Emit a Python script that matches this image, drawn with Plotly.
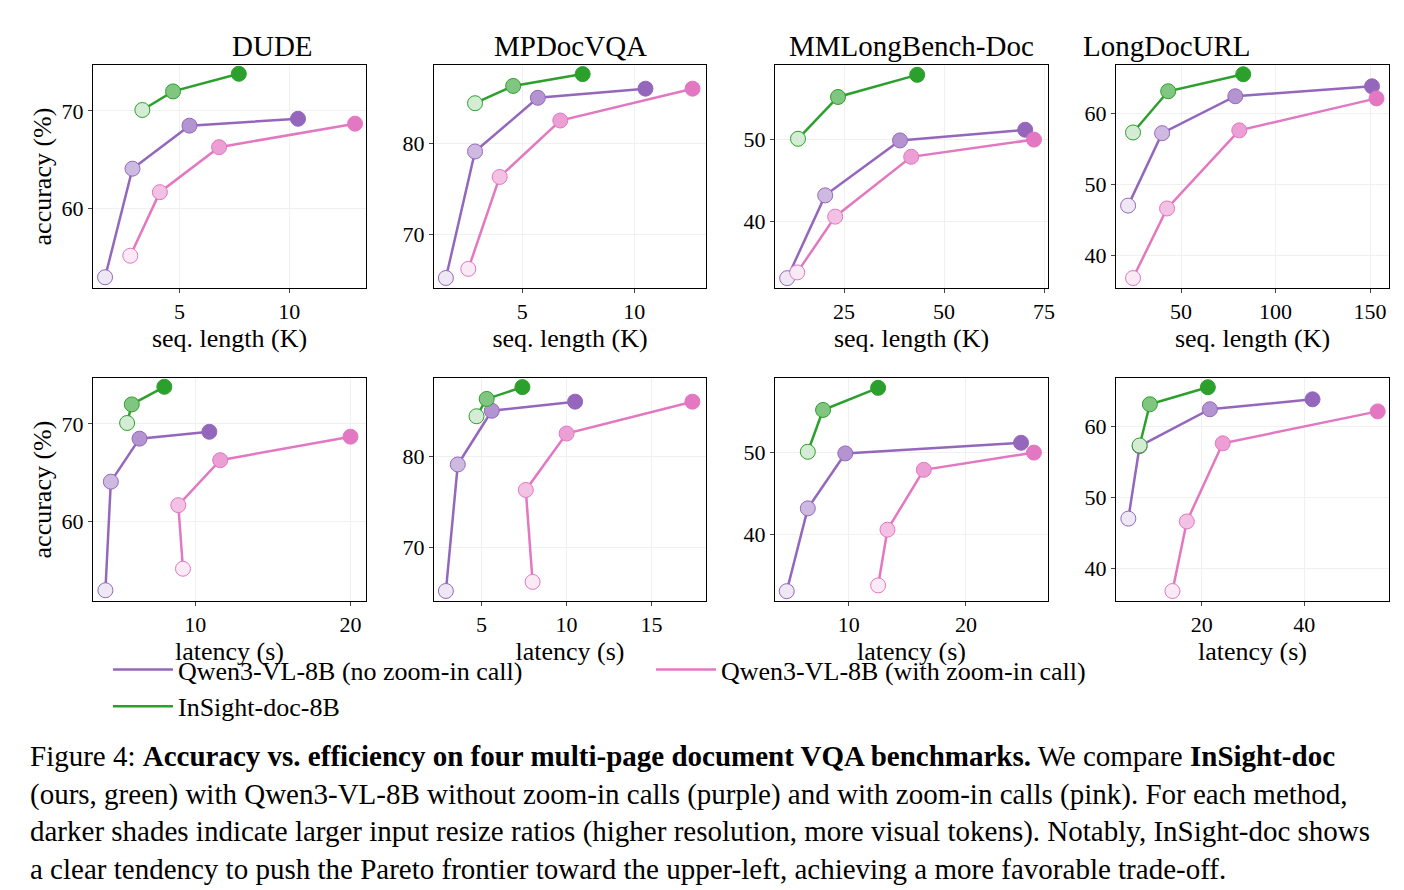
import plotly.graph_objects as go
from plotly.subplots import make_subplots

benchmarks = ["DUDE", "MPDocVQA", "MMLongBench-Doc", "LongDocURL"]
methods = ["Qwen3-VL-8B (no zoom-in call)", "Qwen3-VL-8B (with zoom-in call)", "InSight-doc-8B"]
colors = [(148, 103, 189), (227, 119, 194), (44, 160, 44)]

# accuracy (%) per benchmark, per method
acc = {
    "DUDE": [[53.0, 64.1, 68.5, 69.2], [55.2, 61.7, 66.3, 68.7], [70.1, 72.0, 73.8]],
    "MPDocVQA": [[65.2, 79.1, 85.0, 86.0], [66.2, 76.3, 82.5, 86.0], [84.4, 86.3, 87.6]],
    "MMLongBench-Doc": [[33.1, 43.2, 49.9, 51.2], [33.8, 40.6, 47.9, 50.0], [50.1, 55.2, 57.9]],
    "LongDocURL": [[47.0, 57.2, 62.4, 63.8], [36.8, 46.6, 57.6, 62.1], [57.3, 63.1, 65.5]],
}
# sequence length (K)
seq = {
    "DUDE": [[1.6, 2.85, 5.45, 10.4], [2.75, 4.1, 6.8, 13.0], [3.3, 4.7, 7.7]],
    "MPDocVQA": [[1.6, 2.9, 5.7, 10.5], [2.6, 4.0, 6.7, 12.6], [2.9, 4.6, 7.7]],
    "MMLongBench-Doc": [[10.8, 20.3, 39.0, 70.3], [13.3, 22.8, 41.8, 72.5], [13.5, 23.5, 43.3]],
    "LongDocURL": [[22.0, 40.0, 78.7, 151.0], [24.6, 42.6, 80.8, 153.4], [24.6, 43.2, 82.9]],
}
# latency (s)
lat = {
    "DUDE": [[4.2, 4.55, 6.4, 10.9], [9.2, 8.9, 11.6, 20.0], [5.6, 5.9, 8.0]],
    "MPDocVQA": [[2.9, 3.6, 5.6, 10.5], [8.0, 7.6, 10.0, 17.4], [4.7, 5.3, 7.4]],
    "MMLongBench-Doc": [[4.7, 6.5, 9.7, 24.7], [12.5, 13.3, 16.4, 25.8], [6.5, 7.8, 12.5]],
    "LongDocURL": [[5.7, 7.9, 21.6, 41.6], [14.3, 17.1, 24.1, 54.3], [7.9, 9.9, 21.2]],
}
seq_range = [[1.05, 13.5], [1.07, 13.2], [7.75, 76], [15.6, 160]]
lat_range = [[3.4, 21.0], [2.2, 18.2], [3.7, 27.0], [3.3, 56.5]]
acc_range = [[51.9, 74.7], [64.1, 88.6], [31.9, 59.1], [35.4, 66.8]]
seq_dtick = [5, 5, 25, 50]
lat_dtick = [10, 5, 10, 20]


def shade(c, f):
    r, g, b = [int(v + (255 - v) * f) for v in c]
    return f"rgb({r},{g},{b})"


fig = make_subplots(rows=2, cols=4)
font = "Liberation Serif"

for ci, bm in enumerate(benchmarks):
    for ri, xs in enumerate([seq, lat]):
        for mi in range(3):
            c = colors[mi]
            n = len(acc[bm][mi])
            fades = [0.85, 0.55, 0.3, 0.0] if n == 4 else [0.8, 0.4, 0.0]
            fig.add_trace(go.Scatter(
                x=xs[bm][mi], y=acc[bm][mi], mode="lines+markers",
                line=dict(color=shade(c, 0), width=2.5),
                marker=dict(size=15, color=[shade(c, f) for f in fades],
                            line=dict(color=shade(c, 0), width=1)),
                showlegend=False), row=ri + 1, col=ci + 1)

for mi, m in enumerate(methods):
    fig.add_trace(go.Scatter(x=[None], y=[None], mode="lines", name=m,
                             line=dict(color=shade(colors[mi], 0), width=2.5)))

xd = [(85, 358), (426, 698), (767, 1040), (1108, 1381)]
yd = [(57, 280), (370, 593)]
W, H = 1404, 890
for ri in range(2):
    for ci in range(4):
        k = ri * 4 + ci + 1
        fig.update_layout({
            f"xaxis{k if k > 1 else ''}": dict(
                domain=[xd[ci][0] / W, xd[ci][1] / W],
                range=(seq_range if ri == 0 else lat_range)[ci],
                dtick=(seq_dtick if ri == 0 else lat_dtick)[ci],
                title=dict(text="seq. length (K)" if ri == 0 else "latency (s)",
                           font=dict(size=26), standoff=2),
                showline=True, mirror=True, linecolor="black", linewidth=1,
                ticks="outside", ticklen=4, gridcolor="#f0f0f0", zeroline=False,
                tickfont=dict(size=22)),
            f"yaxis{k if k > 1 else ''}": dict(
                domain=[1 - yd[ri][1] / H, 1 - yd[ri][0] / H],
                range=acc_range[ci], dtick=10,
                title=dict(text="accuracy (%)" if ci == 0 else "", font=dict(size=26), standoff=2),
                showline=True, mirror=True, linecolor="black", linewidth=1,
                ticks="outside", ticklen=4, gridcolor="#f0f0f0", zeroline=False,
                tickfont=dict(size=22)),
        })

anns = []
for ci, bm in enumerate(benchmarks):
    anns.append(dict(text=bm, x=(xd[ci][0] + xd[ci][1]) / 2 / W, y=1 - 38 / H,
                     xref="paper", yref="paper", showarrow=False,
                     font=dict(size=29), yanchor="middle"))
caption = ("Figure 4: <b>Accuracy vs. efficiency on four multi-page document VQA benchmarks.</b> We compare <b>InSight-doc</b><br>"
           "(ours, green) with Qwen3-VL-8B without zoom-in calls (purple) and with zoom-in calls (pink). For each method,<br>"
           "darker shades indicate larger input resize ratios (higher resolution, more visual tokens). Notably, InSight-doc shows<br>"
           "a clear tendency to push the Pareto frontier toward the upper-left, achieving a more favorable trade-off.")
anns.append(dict(text=caption, x=20 / W, y=1 - 730 / H, xref="paper", yref="paper",
                 showarrow=False, align="left", xanchor="left", yanchor="top",
                 font=dict(size=29, color="black")))

fig.update_layout(
    width=W, height=H, margin=dict(l=0, r=0, t=0, b=0, autoexpand=False),
    plot_bgcolor="white", paper_bgcolor="white",
    font=dict(family=font, size=20, color="black"),
    annotations=anns,
    legend=dict(orientation="h", x=100 / W, xanchor="left", y=1 - 680 / H, yanchor="middle",
                font=dict(size=26), itemwidth=60, entrywidth=468, entrywidthmode="pixels"),
)

fig.write_html("out.html")
